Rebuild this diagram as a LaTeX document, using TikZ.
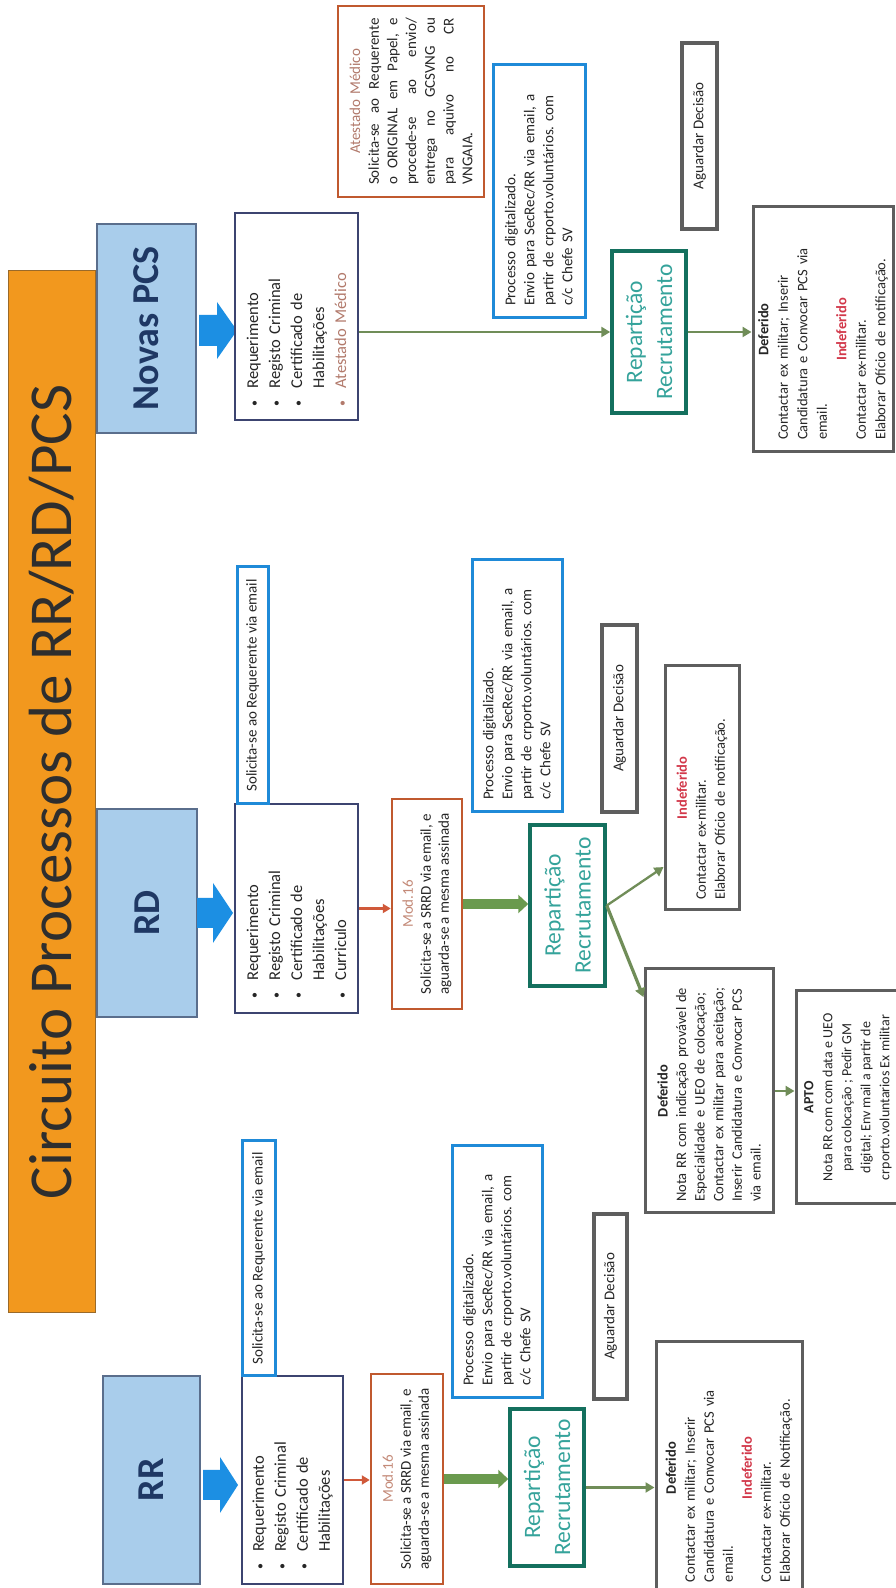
\documentclass[tikz,border=0pt]{standalone}
\usepackage{fontspec}
\setmainfont{Carlito}
\usetikzlibrary{arrows.meta,calc}
\frenchspacing
\definecolor{orangeT}{HTML}{F2981E}
\definecolor{orangeD}{HTML}{9A6A2A}
\definecolor{hdrblue}{HTML}{A9CDEB}
\definecolor{hdrline}{HTML}{5A6E8C}
\definecolor{navy}{HTML}{1F3864}
\definecolor{arrblue}{HTML}{1C8FE3}
\definecolor{lstline}{HTML}{3C4470}
\definecolor{bluebox}{HTML}{1F8AD8}
\definecolor{modline}{HTML}{C0592F}
\definecolor{modtxt}{HTML}{C48A78}
\definecolor{atest}{HTML}{B27A6C}
\definecolor{repline}{HTML}{14705E}
\definecolor{reptext}{HTML}{35A39B}
\definecolor{grayline}{HTML}{5E5E5E}
\definecolor{indred}{HTML}{D2384A}
\definecolor{olive}{HTML}{708D58}
\definecolor{greenA}{HTML}{6A9A4E}
\definecolor{redarr}{HTML}{D0593A}
\definecolor{txt}{HTML}{262626}
\definecolor{titletxt}{HTML}{2E2E2E}
\newcommand\fs[2]{\fontsize{#1}{#2}\selectfont}
\newcommand\bul{\makebox[18pt][l]{{\fontsize{12}{12}\selectfont\textbullet}}}
\newcommand\nob{\hspace*{18pt}}
\newcommand\mkctr[2]{\makebox[#1][c]{#2}}
\newcommand\jthree[3]{\leavevmode\hbox to 167pt{#1\hfill #2\hfill #3}}
\newcommand\jfour[4]{\leavevmode\hbox to 167pt{#1\hfill #2\hfill #3\hfill #4}}
\newcommand\jfive[5]{\leavevmode\hbox to 167pt{#1\hfill #2\hfill #3\hfill #4\hfill #5}}
\newcommand\blk[6]{\fill[arrblue] (#1,#4+#5) -- (#2,#4+#5) -- (#2,#4+#6) -- (#3,#4) -- (#2,#4-#6) -- (#2,#4-#5) -- (#1,#4-#5) -- cycle;}
\begin{document}
\begin{tikzpicture}[x=1pt,y=1pt,
  every node/.style={rotate=90, inner sep=0pt, text=txt, font=\fs{15}{19}},
  ttl/.style={fill=orangeT, draw=orangeD, line width=1pt, text=titletxt, font=\fs{61}{68}},
  hdr/.style={fill=hdrblue, draw=hdrline, line width=1.2pt, text=navy, font=\fs{38}{44}\bfseries},
  lst/.style={draw=lstline, line width=2.5pt, fill=white, align=left, text width=180pt, font=\fs{16.5}{22}},
  blu/.style={draw=bluebox, line width=3pt, fill=white},
  modb/.style={draw=modline, line width=2.5pt, fill=white, align=center, font=\fs{15}{18}},
  repb/.style={draw=repline, line width=3.5pt, fill=white, text=reptext, align=center, font=\fs{23.5}{30}},
  gry/.style={draw=grayline, line width=3pt, fill=white},
  thin/.style={draw=olive, line width=2.3pt, -{Triangle[length=9pt,width=10pt]}},
  thick/.style={draw=greenA, line width=10pt, -{Triangle[length=10pt,width=18pt]}},
  reda/.style={draw=redarr, line width=2.5pt, -{Triangle[length=8pt,width=9pt]}}
]
\useasboundingbox (0,0) rectangle (895,1588);
\fill[white] (0,0) rectangle (895,1588);

% title
\node[ttl, minimum width=1042, minimum height=87] (title) at (51.5,796) {Circuito Processos de RR/RD/PCS};

% headers
\node[hdr, minimum width=209, minimum height=99] (hdrP) at (146.5,1259.5) {Novas PCS};
\node[hdr, minimum width=208, minimum height=100] (hdrD) at (147,675) {RD};
\node[hdr, minimum width=208, minimum height=97] (hdrR) at (151.5,108) {RR};

% block arrows
\blk{199}{217}{237}{1257.5}{15.5}{28.5}
\blk{197}{213}{233}{675}{15}{30}
\blk{203}{220}{238}{103}{15}{28}

% document lists
\node[lst, minimum width=207, minimum height=123] (lstP) at (296.5,1271.5)
 {\bul Requerimento\\ \bul Registo Criminal\\ \bul Certificado de\\ \nob Habilitações\\ {\color{atest}\bul Atestado Médico}};
\node[lst, minimum width=209, minimum height=123] (lstD) at (296.5,679.5)
 {\bul Requerimento\\ \bul Registo Criminal\\ \bul Certificado de\\ \nob Habilitações\\ \bul Curriculo};
\node[lst, minimum width=208, minimum height=101] (lstR) at (292.5,108)
 {\bul Requerimento\\ \bul Registo Criminal\\ \bul Certificado de\\ \nob Habilitações};

% solicita boxes
\node[blu, minimum width=237, minimum height=31] (solD) at (252.5,902.5) {Solicita-se ao Requerente via email};
\node[blu, minimum width=235, minimum height=33] (solR) at (258.5,329.5) {Solicita-se ao Requerente via email};

% atestado
\node[draw=modline, line width=2.5pt, fill=white, minimum width=191, minimum height=146, text width=167pt, align=left, font=\fs{15}{18.7}] (atest) at (411,1486.5)
 {\mkctr{167pt}{\color{atest}Atestado Médico}\\
  \jthree{Solicita-se}{ao}{Requerente}\\
  \jfive{o}{ORIGINAL}{em}{Papel,}{e}\\
  \jthree{procede-se}{ao}{envio/}\\
  \jfour{entrega}{no}{GCSVNG}{ou}\\
  \jfour{para}{aquivo}{no}{CR}\\
  VNGAIA.};

% mod 16
\node[modb, minimum width=210, minimum height=70] (modD) at (427,684)
 {{\color{modtxt}Mod.16}\\Solicita-se a SRRD via email, e\\aguarda-se a mesma assinada};
\node[modb, minimum width=210, minimum height=72] (modR) at (407,109)
 {{\color{modtxt}Mod.16}\\Solicita-se a SRRD via email, e\\aguarda-se a mesma assinada};

% processo
\node[blu, minimum width=253, minimum height=92, text width=229pt, align=left] (procP) at (539,1396.5)
 {Processo digitalizado.\\Envio para SecRec/RR via email, a\\partir de crporto.voluntários. com\\c/c Chefe SV};
\node[blu, minimum width=252, minimum height=90, text width=228pt, align=left] (procD) at (517,902)
 {Processo digitalizado.\\Envio para SecRec/RR via email, a\\partir de crporto.voluntários. com\\c/c Chefe SV};
\node[blu, minimum width=252, minimum height=90, text width=228pt, align=left] (procR) at (497,316)
 {Processo digitalizado.\\Envio para SecRec/RR via email, a\\partir de crporto.voluntários. com\\c/c Chefe SV};

% aguardar
\node[gry, line width=3.5pt, minimum width=186, minimum height=35] (agP) at (699.5,1452) {Aguardar Decisão};
\node[gry, line width=3.5pt, minimum width=187, minimum height=35] (agD) at (619.5,869.5) {Aguardar Decisão};
\node[gry, line width=3.5pt, minimum width=185, minimum height=33] (agR) at (610.5,281.5) {Aguardar Decisão};

% reparticao
\node[repb, minimum width=162, minimum height=74] (repP) at (649,1256) {Repartição\\Recrutamento};
\node[repb, minimum width=161, minimum height=75] (repD) at (567.5,682.5) {Repartição\\Recrutamento};
\node[repb, minimum width=157, minimum height=74] (repR) at (547,100.5) {Repartição\\Recrutamento};

% decisions
\node[gry, minimum width=245, minimum height=140, text width=221pt, align=left, font=\fs{14.5}{19.5}] (defP) at (823,1258.5)
 {\mkctr{221pt}{\bfseries Deferido}\\Contactar ex militar; Inserir\\Candidatura e Convocar PCS via\\email.\\\mkctr{221pt}{\color{indred}\bfseries Indeferido}\\Contactar ex-militar.\\Elaborar Ofício de notificação.};
\node[gry, minimum width=252, minimum height=146, text width=228pt, align=left, font=\fs{14.5}{19}] (defR) at (729,120)
 {\mkctr{228pt}{\bfseries Deferido}\\Contactar ex militar; Inserir\\Candidatura e Convocar PCS via\\email.\\\mkctr{228pt}{\color{indred}\bfseries Indeferido}\\Contactar ex-militar.\\Elaborar Ofício de Notificação.};
\node[gry, minimum width=244, minimum height=128, text width=222pt, align=left, font=\fs{14.5}{18.6}] (defD) at (709,497)
 {\mkctr{222pt}{\bfseries Deferido}\\Nota RR com indicação provável de\\Especialidade e UEO de colocação;\\Contactar ex militar para aceitação;\\Inserir Candidatura e Convocar PCS\\via email.};
\node[gry, minimum width=244, minimum height=74, text width=224pt, align=left, font=\fs{14.5}{19}] (indD) at (702,800)
 {\mkctr{224pt}{\color{indred}\bfseries Indeferido}\\Contactar ex-militar.\\Elaborar Ofício de notificação.};
\node[gry, minimum width=213, minimum height=104, align=center, font=\fs{14}{19}] (apto) at (848,490.5)
 {{\bfseries APTO}\\Nota RR com com data e UEO\\para colocação ; Pedir GM\\digital; Env mail a partir de\\crporto.voluntarios Ex militar};

% connectors
\draw[reda] (lstD.south) -- (lstD.south -| modD.north);
\draw[reda] (lstR.south) -- (lstR.south -| modR.north);
\draw[thick] (modD.south) -- (modD.south -| repD.north);
\draw[thick] (modR.south) -- (modR.south -| repR.north);
\draw[thin] (lstP.south |- repP.north) -- (repP.north);
\draw[thin] (repP.south) -- (repP.south -| defP.north);
\draw[thin] (repR.south) -- (repR.south -| defR.north);
\draw[thin] (repD.south) -- ($(indD.north west)!0.18!(indD.north east)$);
\draw[thin, line width=3.2pt] (repD.south) -- ($(defD.north east)!0.12!(defD.north west)$);
\draw[thin] (defD.south) -- (defD.south -| apto.north);
\end{tikzpicture}
\end{document}
